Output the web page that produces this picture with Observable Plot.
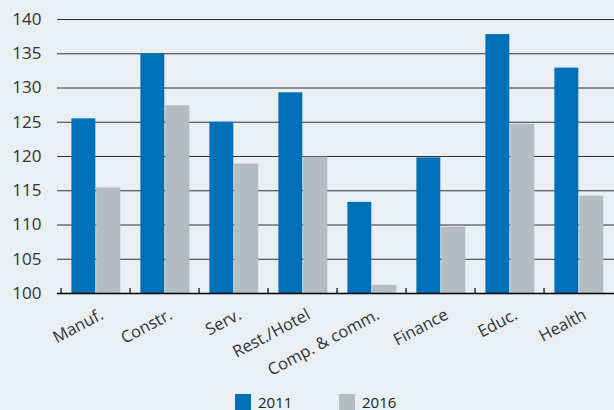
<!DOCTYPE html>
<html><head><meta charset="utf-8">
<script src="https://cdn.jsdelivr.net/npm/d3@7"></script>
<script src="https://cdn.jsdelivr.net/npm/@observablehq/plot@0.6"></script>
<style>
html,body{margin:0;padding:0;background:#e9eff3;}
#wrap{position:relative;width:614px;height:410px;overflow:hidden;background:#e9eff3;font-family:"Open Sans",sans-serif;color:#222;}
#chart svg{display:block;}
.sw{position:absolute;width:16px;height:16px;top:394px;}
.lb{position:absolute;top:392px;font-size:15px;line-height:20px;color:#222;}
</style></head><body>
<div id="wrap"><div id="chart"></div>
<div id="legend"></div></div>
<script>
const categories = ["Manuf.","Constr.","Serv.","Rest./Hotel","Comp. & comm.","Finance","Educ.","Health"];
const values2011 = [125.5,135.0,125.0,129.3,113.3,119.8,137.8,132.9];
const values2016 = [115.4,127.4,118.9,119.9,101.2,109.7,124.7,114.2];
const yTicks = [100,105,110,115,120,125,130,135,140];
const seriesNames = ["2011","2016"];
const colors = ["#0070b8","#b3bec2"];

const data2011 = categories.map((c,i)=>({category:c, value:values2011[i]}));
const data2016 = categories.map((c,i)=>({category:c, value:values2016[i]}));

const bw = (616.5-57.3)/categories.length;

const plot = Plot.plot({
  width: 614, height: 385,
  marginLeft: 57, marginRight: 0, marginTop: 19, marginBottom: 92,
  style: {background:"transparent", fontFamily:"'Open Sans',sans-serif", fontSize:"16px", color:"#333", overflow:"visible"},
  x: {domain: categories, range:[57.3, 616.5], padding:0, axis:null},
  y: {domain:[100,140], axis:null},
  marks: [
    Plot.ruleY(yTicks.filter(t=>t>100), {stroke:"#333", strokeWidth:1}),
    Plot.barY(data2011, {x:"category", y1:100, y2:"value", fill:colors[0], insetLeft:10.4, insetRight:bw-10.4-24.8}),
    Plot.barY(data2016, {x:"category", y1:100, y2:"value", fill:colors[1], insetLeft:10.4+24.8, insetRight:bw-10.4-49.8}),
    Plot.ruleY([100], {stroke:"#000", strokeWidth:1.5}),
    Plot.ruleX(categories, {x:d=>d, dx:-bw/2, y1:100, y2:100, insetTop:-5, stroke:"#000", strokeWidth:1.2}),
    Plot.axisY({ticks:yTicks, tickSize:0, tickPadding:16, fontSize:17, fill:"#333", label:null}),
    Plot.text(categories, {x:d=>d, y:100, text:d=>d, rotate:-28, textAnchor:"end", dx:6, dy:20, fontSize:16.5, fill:"#333"})
  ]
});
document.getElementById("chart").appendChild(plot);

const legend = document.getElementById("legend");
const swX = [235, 339], lbX = [258, 362];
seriesNames.forEach((s,i)=>{
  const sw = document.createElement("div"); sw.className="sw"; sw.style.left=swX[i]+"px"; sw.style.background=colors[i];
  const lb = document.createElement("div"); lb.className="lb"; lb.style.left=lbX[i]+"px"; lb.textContent=s;
  legend.appendChild(sw); legend.appendChild(lb);
});
</script>
</body></html>
